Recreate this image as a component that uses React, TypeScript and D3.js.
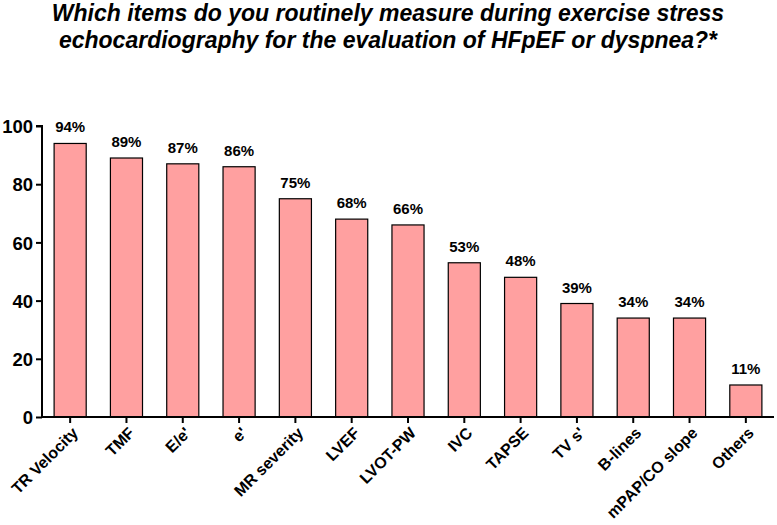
import React, { useEffect, useRef } from "react";
import * as d3 from "d3";

const categories = [
  "TR Velocity",
  "TMF",
  "E/e'",
  "e'",
  "MR severity",
  "LVEF",
  "LVOT-PW",
  "IVC",
  "TAPSE",
  "TV s'",
  "B-lines",
  "mPAP/CO slope",
  "Others",
];
const values = [94, 89, 87, 86, 75, 68, 66, 53, 48, 39, 34, 34, 11];
const yTicks = [0, 20, 40, 60, 80, 100];
const titleLines = [
  "Which items do you routinely measure during exercise stress",
  "echocardiography for the evaluation of HFpEF or dyspnea?*",
];

const W = 777;
const H = 525;
const FONT = "'Liberation Sans', Arial, sans-serif";

export default function App() {
  const ref = useRef<SVGSVGElement>(null);

  useEffect(() => {
    if (!ref.current) return;
    const svg = d3.select(ref.current);
    svg.selectAll("*").remove();

    const left = 42;
    const right = 774;
    const top = 126;
    const bottom = 417;

    const x = d3.scaleBand<string>().domain(categories).range([left, right]).paddingInner(0.43).paddingOuter(0.215);
    const y = d3.scaleLinear().domain([0, 100]).range([bottom, top]);

    // title
    svg
      .append("g")
      .selectAll("text")
      .data(titleLines)
      .join("text")
      .attr("x", 388)
      .attr("y", (_, i) => 21 + i * 27)
      .attr("text-anchor", "middle")
      .style("font", `italic bold 23px ${FONT}`)
      .text((d) => d);

    // bars
    svg
      .append("g")
      .selectAll("rect")
      .data(values)
      .join("rect")
      .attr("x", (_, i) => x(categories[i])!)
      .attr("y", (d) => y(d))
      .attr("width", x.bandwidth())
      .attr("height", (d) => bottom - y(d))
      .attr("fill", "#ffa0a0")
      .attr("stroke", "#000")
      .attr("stroke-width", 1.2);

    // value labels
    svg
      .append("g")
      .selectAll("text")
      .data(values)
      .join("text")
      .attr("x", (_, i) => x(categories[i])! + x.bandwidth() / 2)
      .attr("y", (d) => y(d) - 11)
      .attr("text-anchor", "middle")
      .style("font", `bold 15px ${FONT}`)
      .text((d) => `${d}%`);

    // y axis
    const yAxis = svg
      .append("g")
      .attr("transform", `translate(${left},0)`)
      .call(d3.axisLeft(y).tickValues(yTicks).tickSize(6).tickPadding(3));
    yAxis.select(".domain").attr("stroke", "#000").attr("stroke-width", 2).attr("d", `M-6,${top}H0V${bottom}`);
    yAxis.selectAll(".tick line").attr("stroke", "#000").attr("stroke-width", 2);
    yAxis
      .selectAll(".tick text")
      .attr("fill", "#000")
      .attr("dy", "0.36em")
      .style("font", `bold 18.5px ${FONT}`);

    // x axis
    const xAxis = svg
      .append("g")
      .attr("transform", `translate(0,${bottom})`)
      .call(d3.axisBottom(x).tickSize(6).tickPadding(4));
    xAxis.select(".domain").attr("stroke", "#000").attr("stroke-width", 2).attr("d", `M${left},0H${right}`);
    xAxis.selectAll(".tick line").attr("stroke", "#000").attr("stroke-width", 2);
    xAxis
      .selectAll(".tick text")
      .attr("fill", "#000")
      .attr("text-anchor", "end")
      .attr("dy", "0")
      .attr("transform", "translate(9,17) rotate(-45)")
      .attr("y", 0)
      .attr("x", 0)
      .style("font", `bold 16px ${FONT}`);
  }, []);

  return (
    <svg
      ref={ref}
      width={W}
      height={H}
      style={{ display: "block", position: "absolute", left: 0, top: 0, background: "#fff" }}
    />
  );
}
